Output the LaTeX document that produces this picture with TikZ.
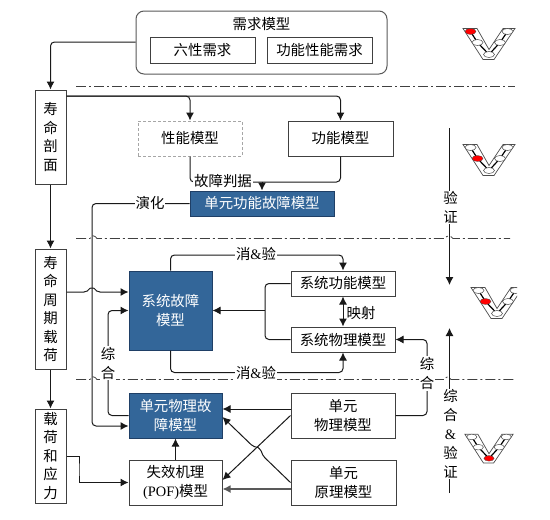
\documentclass[tikz,border=0pt]{standalone}
\usepackage{fontspec}
\usepackage{xcolor}
\usetikzlibrary{arrows.meta}
\setmainfont{Noto Sans CJK SC}
\newfontfamily\latinfont{Liberation Serif}
\definecolor{faultblue}{HTML}{336699}
\definecolor{faultedge}{HTML}{1F3F66}
\definecolor{boxedge}{HTML}{404040}
\tikzset{
  modelbox/.style={draw=boxedge, fill=white, line width=1pt, align=center, inner sep=0pt,
    font=\fontsize{14.4}{18.5}\selectfont},
  faultbox/.style={modelbox, draw=faultedge, fill=faultblue, text=white},
  lbl/.style={fill=white, inner sep=1pt, align=center, font=\fontsize{14.4}{19}\selectfont},
  conn/.style={draw=black!90, line width=1pt, rounded corners=4pt},
  arrowconn/.style={conn, -{Latex[length=8pt, width=8pt]}},
  biconn/.style={conn, {Latex[length=8pt, width=8pt]}-{Latex[length=8pt, width=8pt]}},
  stage/.style={draw=black!75, line width=0.8pt, dash pattern=on 10pt off 3pt on 2pt off 3pt}
}

\begin{document}
\begin{tikzpicture}[x=1pt, y=-1pt]
  \useasboundingbox (0,0) rectangle (550,520);
  % stage lines
  \draw[stage] (76,86.5) -- (515,86.5);
  \draw[stage] (76,238.5) -- (90,238.5) .. controls (91,235) and (95,235) .. (97,238.5)
    -- (445,238.5) .. controls (447,235) and (450,235) .. (453,238.5) -- (510,238.5);
  \draw[stage] (76,379.5) -- (90,379.5) .. controls (91,376) and (95,376) .. (97,379.5)
    -- (445,379.5) .. controls (446,376) and (449,376) .. (451,379.5) -- (515,379.5);

  % models
  \node[modelbox, draw=black!65, rounded corners=8pt, minimum width=251pt, minimum height=63pt] (req) at (261.5,42.5) {};
  \node[font=\fontsize{14.4}{18}\selectfont] (reqtitle) at (261.5,24) {需求模型};
  \foreach \n/\cx/\t in {sixreq/202.5/六性需求, funcreq/319.5/功能性能需求}{
    \node[modelbox, minimum width=105pt, minimum height=26pt] (\n) at (\cx,50) {\t};}
  \node[modelbox, minimum width=31pt, minimum height=94pt] (lifeprof) at (50.5,137) {寿\\命\\剖\\面};
  \node[modelbox, minimum width=31pt, minimum height=120pt] (lifeload) at (50.5,309) {寿\\命\\周\\期\\载\\荷};
  \node[modelbox, minimum width=31pt, minimum height=94pt] (stress) at (50.5,456) {载\\荷\\和\\应\\力};
  \node[modelbox, draw=black!35, densely dashed, minimum width=104pt, minimum height=35pt] (perf) at (190,138.5) {性能模型};
  \node[modelbox, minimum width=105pt, minimum height=35pt] (func) at (340.5,138.5) {功能模型};
  \node[faultbox, minimum width=144pt, minimum height=25pt] (unitfunc) at (262,203.5) {单元功能故障模型};
  \node[faultbox, minimum width=83pt, minimum height=79pt] (sysfault) at (170.5,310.5) {系统故障\\模型};
  \node[modelbox, minimum width=104pt, minimum height=25pt] (sysfunc) at (343,283.5) {系统功能模型};
  \node[modelbox, minimum width=104pt, minimum height=25pt] (sysphys) at (343,339.5) {系统物理模型};
  \node[faultbox, minimum width=93pt, minimum height=45pt] (unitfault) at (175.5,415.5) {单元物理故\\障模型};
  \node[modelbox, minimum width=93pt, minimum height=45pt] (pof) at (175.5,482.5) {失效机理\\{\latinfont (POF)}模型};
  \node[modelbox, minimum width=104pt, minimum height=45pt] (unitphys) at (343,415.5) {单元\\物理模型};
  \node[modelbox, minimum width=105pt, minimum height=45pt] (unitprin) at (343.5,482.5) {单元\\原理模型};

  % turning points
  \coordinate (reqturn) at (50.5,42);
  \coordinate (merge) at (262,182);
  \coordinate (evolve) at (92,426);
  \coordinate (synthl) at (108,363);
  \coordinate (synthr) at (427,374);
  \coordinate (elimtop) at (256,255);
  \coordinate (elimbot) at (256,372.5);
  \coordinate (join) at (265,310.5);
  \coordinate (stressturn) at (79,470);
  \coordinate (verifytop) at (449.5,128);
  \coordinate (verifyend) at (449.5,285);
  \coordinate (synthbot) at (449.5,493);
  \coordinate (synthend) at (449.5,328);

  % connectors
  \draw[arrowconn] (req.west |- reqturn) -- (reqturn) -- (lifeprof.north);
  \draw[arrowconn] ([yshift=41pt]lifeprof.east) -| (perf.north);
  \draw[arrowconn] ([yshift=41pt]lifeprof.east) -| (func.north);
  \draw[arrowconn] (lifeprof) -- (lifeload);
  \draw[arrowconn] (lifeload) -- (stress);
  \draw[conn] (perf.south) |- (merge);
  \draw[conn] (func.south) |- (merge);
  \draw[arrowconn] (merge) -- (unitfunc.north);
  \draw[arrowconn] (unitfunc.west) -| (evolve) -- ([yshift=-10.5pt]unitfault.west);
  \draw[arrowconn] ([yshift=17pt]lifeload.east) -- (88,292) .. controls (90,288) and (94,288) .. (96,292) -- ([yshift=18.5pt]sysfault.west);
  \draw[arrowconn] (unitfault.west) -| (synthl) |- (sysfault.west);
  \draw[arrowconn] (sysfault.north) |- (elimtop) -| (sysfunc.north);
  \draw[arrowconn] (sysfault.south) |- (elimbot) -| (sysphys.south);
  \draw[conn] (sysfunc.west) -| (join) |- (sysphys.west);
  \draw[arrowconn] (join) -- (sysfault.east);
  \draw[biconn] (sysfunc) -- (sysphys);
  \draw[arrowconn] (unitphys.east) -| (synthr) |- (sysphys.east);
  \draw[arrowconn] ([yshift=6.5pt]unitphys.west) -- ([yshift=6.5pt]unitfault.east);
  \draw[arrowconn] (unitphys.west) -- ([yshift=2.5pt]pof.east);
  \draw[arrowconn] (unitprin.west) -- (262,455) .. controls (261,450) and (258,447.5) .. (254,447.4) -- ([yshift=-1.5pt]unitfault.east);
  \draw[arrowconn, line width=1.5pt, draw=black!65] ([yshift=-6.5pt]unitprin.west) -- ([yshift=-6.5pt]pof.east);
  \draw[arrowconn] (pof.north) -- (unitfault.south);
  \draw[arrowconn, sharp corners] (stress.east) -| (stressturn) |- (pof.west);
  \draw[arrowconn] (verifytop) -- (verifyend);
  \draw[arrowconn] (synthbot) -- (synthend);

  % labels
  \node[lbl] (jdglbl) at (223,181) {故障判据};
  \node[lbl] (evollbl) at (150,203) {演化};
  \node[lbl] (elimtoplbl) at (256,254) {消{\latinfont\&}验};
  \node[lbl] (elimbotlbl) at (256,373) {消{\latinfont\&}验};
  \node[lbl, fill=none] (maplbl) at (361,313) {映射};
  \node[lbl] (synthllbl) at (108,363) {综\\合};
  \node[lbl] (synthrlbl) at (427,373.5) {综\\合};
  \node[lbl] (verifylbl) at (450.5,207.5) {验\\证};
  \node[lbl] (synthlbl) at (450.5,434) {综\\合\\{\latinfont\&}\\验\\证};

  % V icons
  \begin{scope}
    \clip (450,0) rectangle (517,520);
    \foreach \vx/\vy/\vs/\vred in {489/59.5/1/1, 489/175.5/1/2, 497/318.5/1/2, 489/463/0.93/3}{
      \begin{scope}[shift={(\vx,\vy)}, scale=\vs]
        \draw[black!70, line width=0.7pt] (-26,-31) -- (-12,-31) -- (0,-10) -- (14,-31) -- (26,-31) -- (5,0) -- (-6,0) -- cycle;
        \draw[black, line width=1.2pt] (-18.5,-28) -- (-11.5,-17) -- (0,-5) -- (11,-17) -- (18.5,-28);
        \foreach \k/\ex/\ey in {1/-18.5/-28, 2/-11.5/-17, 3/0/-5, 4/11/-17, 5/18.5/-28}{
          \ifnum\k=\vred
            \fill[red, draw=black!70, line width=0.3pt] (\ex,\ey) ellipse [x radius=5.5, y radius=3];
          \else
            \fill[white, draw=black!70, line width=0.5pt] (\ex,\ey) ellipse [x radius=5.5, y radius=3];
          \fi}
      \end{scope}}
  \end{scope}
\end{tikzpicture}
\end{document}
